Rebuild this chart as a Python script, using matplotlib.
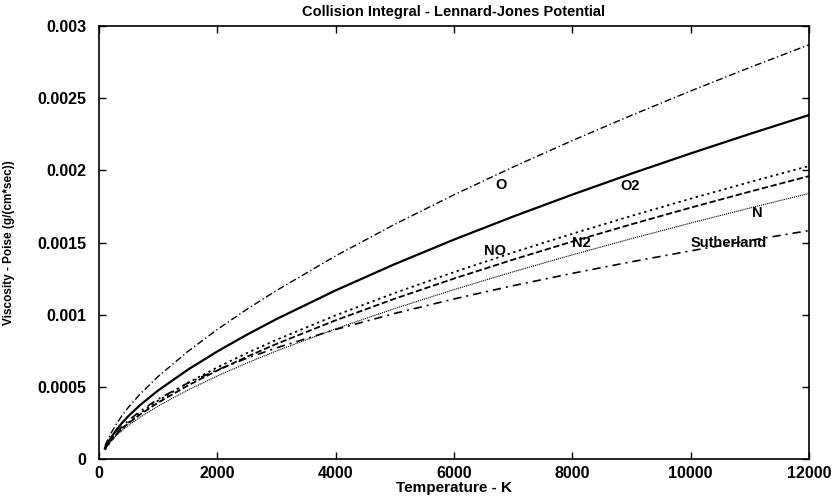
import numpy as np
import matplotlib
matplotlib.use("Agg")
import matplotlib.pyplot as plt

# Temperature (K)
temperature = [100, 150, 200, 300, 400, 500, 700, 1000, 1500, 2000, 2500, 3000,
               4000, 5000, 6000, 7000, 8000, 9000, 10000, 11000, 12000]
# Viscosity in units of 1e-3 poise (g/(cm*sec))
mu_O  = [0.0915, 0.1366, 0.1771, 0.2468, 0.3066, 0.3597, 0.4525, 0.5722, 0.7447, 0.8976, 1.0374,
         1.1676, 1.4072, 1.6264, 1.8306, 2.0231, 2.2062, 2.3814, 2.5498, 2.7125, 2.8700]
mu_O2 = [0.0760, 0.1134, 0.1471, 0.2049, 0.2546, 0.2987, 0.3758, 0.4751, 0.6184, 0.7453, 0.8613,
         0.9695, 1.1684, 1.3504, 1.5200, 1.6798, 1.8318, 1.9773, 2.1172, 2.2522, 2.3830]
mu_NO = [0.0626, 0.0940, 0.1228, 0.1724, 0.2151, 0.2531, 0.3195, 0.4046, 0.5268, 0.6349, 0.7337,
         0.8259, 0.9953, 1.1504, 1.2948, 1.4310, 1.5605, 1.6844, 1.8035, 1.9186, 2.0300]
mu_N2 = [0.0716, 0.1027, 0.1295, 0.1752, 0.2141, 0.2487, 0.3101, 0.3910, 0.5086, 0.6130, 0.7084,
         0.7974, 0.9610, 1.1107, 1.2502, 1.3816, 1.5067, 1.6263, 1.7414, 1.8524, 1.9600]
mu_N  = [0.0673, 0.0964, 0.1216, 0.1645, 0.2010, 0.2335, 0.2911, 0.3670, 0.4775, 0.5754, 0.6651,
         0.7486, 0.9022, 1.0427, 1.1736, 1.2971, 1.4144, 1.5267, 1.6347, 1.7390, 1.8400]
mu_Suth = [0.0693, 0.1029, 0.1329, 0.1846, 0.2285, 0.2671, 0.3332, 0.4152, 0.5260, 0.6179, 0.6982,
           0.7702, 0.8974, 1.0087, 1.1090, 1.2009, 1.2863, 1.3664, 1.4421, 1.5140, 1.5826]

series_names = ["O", "O2", "NO", "N2", "N", "Sutherland"]
label_T = [6790, 8970, 6690, 8160, 11120, 10650]
label_mu = [1.898, 1.894, 1.441, 1.494, 1.702, 1.494]

x_ticks = [0, 2000, 4000, 6000, 8000, 10000, 12000]
y_ticks = [0, 0.0005, 0.001, 0.0015, 0.002, 0.0025, 0.003]
y_tick_labels = ["0", "0.0005", "0.001", "0.0015", "0.002", "0.0025", "0.003"]

scale = 1e-3
plt.rcParams['font.family'] = ['Liberation Sans', 'DejaVu Sans']

fig = plt.figure(figsize=(8.33, 5.0), dpi=100)
ax = fig.add_axes([99/833, 1 - 459/500, 710/833, 433/500])

T = np.array(temperature, float)
styles = [
    dict(ls=(0, (5, 2, 1, 2)), lw=1.0),    # O
    dict(ls='-', lw=1.6),                  # O2
    dict(ls=(0, (1.3, 2.0)), lw=1.3),      # NO
    dict(ls=(0, (3.5, 1.5)), lw=1.3),      # N2
    dict(ls=(0, (1, 0.8)), lw=0.8),        # N
    dict(ls=(0, (5, 3, 1.2, 3)), lw=1.2),  # Sutherland
]
for vals, st in zip([mu_O, mu_O2, mu_NO, mu_N2, mu_N, mu_Suth], styles):
    ax.plot(T, np.array(vals) * scale, color='black', **st)

for name, tx, ty in zip(series_names, label_T, label_mu):
    ax.text(tx, ty * scale, name, ha='center', va='center', fontsize=10.5,
            fontweight='bold', color='black')

ax.set_xlim(0, 12000)
ax.set_ylim(0, 0.003)
ax.set_xticks(x_ticks)
ax.set_xticklabels([str(v) for v in x_ticks])
ax.set_yticks(y_ticks)
ax.set_yticklabels(y_tick_labels)
ax.tick_params(direction='in', length=5, width=1.0, top=True, right=True,
               labelsize=11.5)
ax.tick_params(axis='x', pad=5)
ax.tick_params(axis='y', pad=9)
for lab in ax.get_xticklabels() + ax.get_yticklabels():
    lab.set_fontweight('bold')
for sp in ax.spines.values():
    sp.set_linewidth(1.2)

ax.set_title("Collision Integral - Lennard-Jones Potential", fontsize=10.5,
             fontweight='bold', pad=7)
ax.set_xlabel("Temperature - K", fontsize=11, fontweight='bold', labelpad=0)
ax.set_ylabel("Viscosity - Poise (g/(cm*sec))", fontsize=8.5, fontweight='bold')
ax.yaxis.set_label_coords(-0.118, 0.5)

fig.savefig("out.png", dpi=100)
